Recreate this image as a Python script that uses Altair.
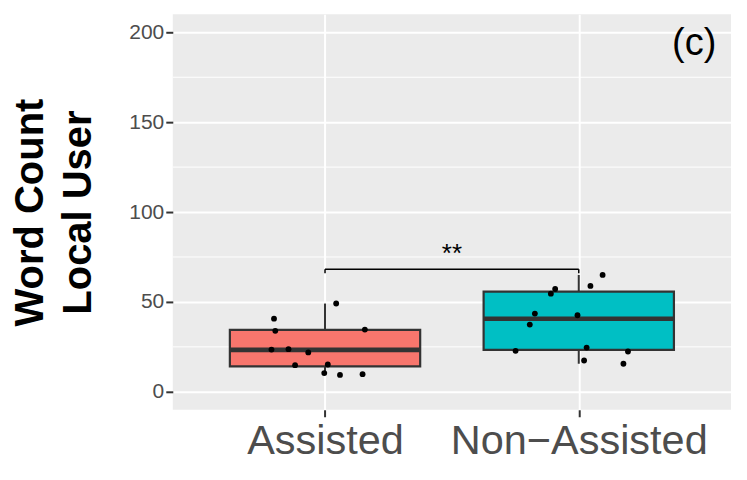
import altair as alt
import pandas as pd

# ---- data ----
groups = ["Assisted", "Non\u2212Assisted"]
group_pos = [1, 2]
box_colors = ["#F8766D", "#00BFC4"]

whisker_low = [9.4, 15.6]
q1 = [14.1, 23.3]
median = [23.3, 40.6]
q3 = [34.4, 55.7]
whisker_high = [49.1, 65.0]

assisted_x = [1.044, 0.799, 0.804, 1.157, 0.789, 0.856, 0.934, 0.882, 1.011, 0.997, 1.059, 1.148]
assisted_y = [49.1, 40.7, 33.9, 34.6, 23.5, 23.7, 21.9, 14.8, 15.2, 10.4, 9.4, 9.8]
nonassisted_x = [2.094, 2.046, 1.907, 1.890, 1.827, 1.995, 1.807, 1.751, 2.031, 2.194, 2.021, 2.176]
nonassisted_y = [65.0, 58.9, 57.2, 54.6, 43.5, 42.6, 37.4, 22.8, 24.6, 22.4, 17.4, 15.6]

y_ticks = [0, 50, 100, 150, 200]
y_minor = [25, 75, 125, 175]

bracket_from = [1]
bracket_to = [2]
bracket_y = [68.2]
bracket_tick_y = [66.0]
signif_label = ["**"]
signif_label_y = [72.2]

panel_label = ["(c)"]
panel_label_x = [2.455]
panel_label_y = [193.6]

# ---- tables ----
boxes = pd.DataFrame({
    "group": groups, "pos": group_pos, "low": whisker_low, "q1": q1,
    "median": median, "q3": q3, "high": whisker_high,
})
points = pd.DataFrame({
    "x": assisted_x + nonassisted_x,
    "y": assisted_y + nonassisted_y,
})
minor = pd.DataFrame({"y": y_minor})
bracket = pd.DataFrame({"x1": bracket_from, "x2": bracket_to, "y": bracket_y,
                        "yt": bracket_tick_y, "label": signif_label, "ly": signif_label_y})
bracket_ticks = pd.DataFrame({"x": bracket_from + bracket_to,
                              "y": bracket_y * 2, "yt": bracket_tick_y * 2})
plabel = pd.DataFrame({"x": panel_label_x, "y": panel_label_y, "t": panel_label})

FONT = "Liberation Sans"
label_expr = " : ".join(
    [f"datum.value == {p} ? '{g}'" for p, g in zip(group_pos[:-1], groups[:-1])]
    + [f"'{groups[-1]}'"]
)

xscale = alt.Scale(domain=[0.4, 2.6], nice=False, zero=False)
yscale = alt.Scale(domain=[-10, 210], nice=False, zero=False)

xaxis = alt.Axis(values=group_pos, labelExpr=label_expr, title=None, grid=True,
                 gridColor="white", gridWidth=2, domain=False, tickColor="#333333",
                 tickSize=7, tickWidth=2, labelFont=FONT, labelFontSize=41.5,
                 labelColor="#4D4D4D", labelPadding=4, labelFlush=False,
                 labelOverlap=False, labelLimit=0)
yaxis = alt.Axis(values=y_ticks, title=["Word Count", "Local User"], grid=True,
                 gridColor="white", gridWidth=2, domain=False, tickColor="#333333",
                 tickSize=7, tickWidth=2, labelFont=FONT, labelFontSize=21,
                 labelColor="#4D4D4D", labelPadding=2, titleFont=FONT,
                 titleFontSize=40, titleFontWeight="bold", titleColor="black",
                 titleLineHeight=48, titlePadding=30, labelLimit=0)

base_axes = alt.Chart(minor).mark_rule(color="white", strokeWidth=1).encode(
    y=alt.Y("y:Q", scale=yscale, axis=yaxis),
)

# invisible layer to carry the x axis
xcarrier = alt.Chart(boxes).mark_point(opacity=0).encode(
    x=alt.X("pos:Q", scale=xscale, axis=xaxis),
    y=alt.Y("median:Q", scale=yscale),
)

whiskers = alt.Chart(boxes).mark_rule(color="#333333", strokeWidth=2).encode(
    x=alt.X("pos:Q", scale=xscale),
    y=alt.Y("low:Q", scale=yscale),
    y2="high:Q",
)

box = alt.Chart(boxes).transform_calculate(
    left="datum.pos - 0.375", right="datum.pos + 0.375"
).mark_bar(stroke="#333333", strokeWidth=2.2).encode(
    x=alt.X("left:Q", scale=xscale),
    x2="right:Q",
    y=alt.Y("q1:Q", scale=yscale),
    y2="q3:Q",
    fill=alt.Fill("group:N", scale=alt.Scale(domain=groups, range=box_colors), legend=None),
)

med = alt.Chart(boxes).transform_calculate(
    left="datum.pos - 0.375", right="datum.pos + 0.375"
).mark_rule(color="#333333", strokeWidth=4.6, strokeCap="butt").encode(
    x=alt.X("left:Q", scale=xscale),
    x2="right:Q",
    y=alt.Y("median:Q", scale=yscale),
)

pts = alt.Chart(points).mark_circle(color="black", size=34, opacity=1).encode(
    x=alt.X("x:Q", scale=xscale),
    y=alt.Y("y:Q", scale=yscale),
)

br_h = alt.Chart(bracket).mark_rule(color="black", strokeWidth=1.5).encode(
    x=alt.X("x1:Q", scale=xscale), x2="x2:Q", y=alt.Y("y:Q", scale=yscale),
)
br_t = alt.Chart(bracket_ticks).mark_rule(color="black", strokeWidth=1.5).encode(
    x=alt.X("x:Q", scale=xscale), y=alt.Y("yt:Q", scale=yscale), y2="y:Q",
)
br_text = alt.Chart(bracket).transform_calculate(
    mid="(datum.x1 + datum.x2) / 2"
).mark_text(font=FONT, fontSize=26, color="black", baseline="alphabetic", align="center").encode(
    x=alt.X("mid:Q", scale=xscale), y=alt.Y("ly:Q", scale=yscale), text="label:N",
)
ptext = alt.Chart(plabel).mark_text(font=FONT, fontSize=38, color="black",
                                     baseline="middle", align="center").encode(
    x=alt.X("x:Q", scale=xscale), y=alt.Y("y:Q", scale=yscale), text="t:N",
)

chart = alt.layer(
    base_axes, xcarrier, whiskers, box, med, pts, br_h, br_t, br_text, ptext
).properties(
    width=559, height=396,
    autosize=alt.AutoSizeParams(type="none"),
    padding={"left": 165, "top": 6, "right": 8, "bottom": 60},
).configure(
    background="white",
    view=alt.ViewConfig(fill="#EBEBEB", stroke=None),
)

chart.save("out.html", embed_options={"renderer": "svg", "actions": False})
